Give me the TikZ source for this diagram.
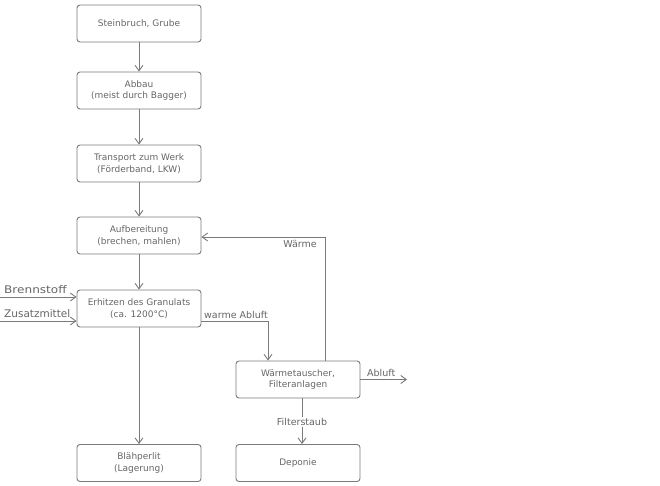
\documentclass[tikz,border=0pt]{standalone}
\usepackage{fontspec}
\setmainfont{DejaVu Sans}
\usetikzlibrary{arrows.meta}
\definecolor{linec}{HTML}{7A7A7A}
\definecolor{textc}{HTML}{666666}
\begin{document}
\begin{tikzpicture}[x=1pt,y=-1pt,
  box/.style={draw=linec, line width=0.9pt, rounded corners=3pt, minimum width=124pt, minimum height=37pt,
    align=center, text=textc, font=\fontsize{9}{11.5}\selectfont, inner sep=1pt},
  conn/.style={draw=linec, line width=0.9pt, -{Straight Barb[length=5.5pt,width=8pt]}},
  lbl/.style={text=textc, font=\fontsize{9.5}{11}\selectfont, inner sep=1pt}]
\useasboundingbox (0,0) rectangle (660,486);
\node[box] (stein) at (139,23.5) {Steinbruch, Grube};
\node[box] (abbau) at (139,90.5) {Abbau\\(meist durch Bagger)};
\node[box] (trans) at (139,163.5) {Transport zum Werk\\(Förderband, LKW)};
\node[box] (aufb) at (139,235.5) {Aufbereitung\\(brechen, mahlen)};
\node[box] (erh) at (139,308.5) {Erhitzen des Granulats\\(ca. 1200°C)};
\node[box] (blah) at (139,463) {Blähperlit\\(Lagerung)};
\node[box] (waerm) at (298,379.5) {Wärmetauscher,\\Filteranlagen};
\node[box] (dep) at (298,463) {Deponie};
\coordinate (bsrc) at (0,297);
\coordinate (zsrc) at (0,321);
\coordinate (abl) at (407,379.5);
\coordinate (k1) at (268,321);
\coordinate (k2) at (325,237);
\draw[conn] (stein) -- (abbau);
\draw[conn] (abbau) -- (trans);
\draw[conn] (trans) -- (aufb);
\draw[conn] (aufb) -- (erh);
\draw[conn] (erh) -- (blah);
\draw[conn] (bsrc) -- (bsrc -| erh.west);
\draw[conn] (zsrc) -- (zsrc -| erh.west);
\node[lbl, anchor=south west] (lb) at (3,295) {\fontsize{10.5}{12}\selectfont\scalebox{1.15}[1]{Brennstoff}};
\node[lbl, anchor=south west] (lz) at (3,319) {\fontsize{10.5}{12}\selectfont Zusatzmittel};
\draw[conn] (k1 -| erh.east) -- (k1) -- (k1 |- waerm.north);
\node[lbl, anchor=south west] (lwa) at (203,320) {warme Abluft};
\draw[conn] (k2 |- waerm.north) -- (k2) -- (k2 -| aufb.east);
\node[lbl, anchor=north east] (lw) at (318,239) {Wärme};
\draw[conn] (waerm.east) -- (abl);
\node[lbl, anchor=south west] (la) at (366,378) {Abluft};
\node[lbl, fill=white] (lf) at (302,422) {Filterstaub};
\draw[draw=linec, line width=0.9pt] (waerm.south -| lf) -- (lf.north);
\draw[conn] (lf.south) -- (lf |- dep.north);
\end{tikzpicture}
\end{document}
